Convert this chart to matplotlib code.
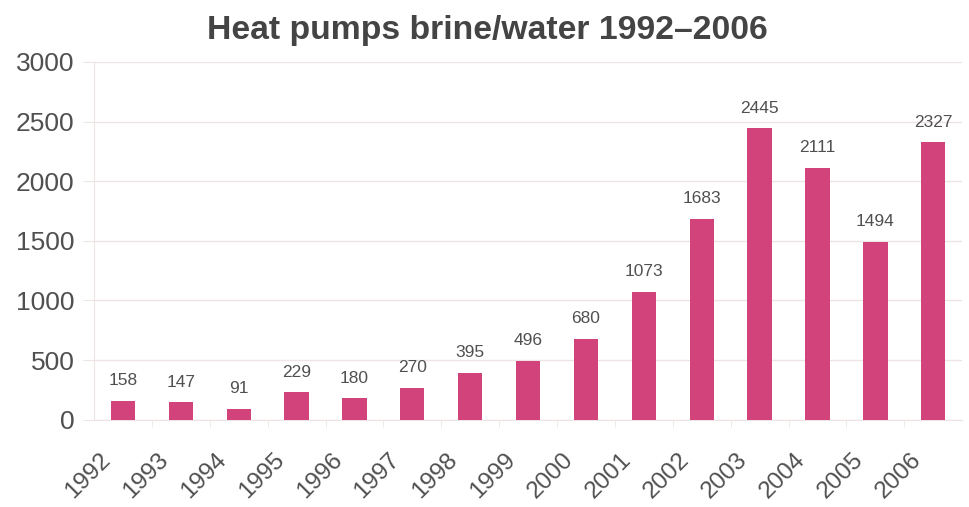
import matplotlib.pyplot as plt
from matplotlib.transforms import ScaledTranslation

plt.rcParams['font.family'] = ['Liberation Sans', 'DejaVu Sans']

years = ['1992', '1993', '1994', '1995', '1996', '1997', '1998', '1999',
         '2000', '2001', '2002', '2003', '2004', '2005', '2006']
values = [158, 147, 91, 229, 180, 270, 395, 496, 680, 1073, 1683, 2445, 2111, 1494, 2327]
yticks = [0, 500, 1000, 1500, 2000, 2500, 3000]

bar_color = '#d2427b'
text_color = '#505050'
grid_color = '#efe4e4'

fig = plt.figure(figsize=(9.69, 5.07), dpi=100)
ax = fig.add_axes([0.097, 0.172, 0.896, 0.706])

x = list(range(len(years)))
bars = ax.bar(x, values, width=0.42, color=bar_color, zorder=3)
for b, v in zip(bars, values):
    ax.annotate(str(v), (b.get_x() + b.get_width() / 2, v), xytext=(0, 9),
                textcoords='offset points', ha='center', va='bottom',
                fontsize=12.5, color=text_color)

ax.set_xlim(-0.5, len(years) - 0.5)
ax.set_ylim(0, 3000)
ax.set_yticks(yticks)
ax.set_yticklabels([str(t) for t in yticks], fontsize=19, color=text_color)
ax.set_xticks(x)
ax.set_xticklabels(years, rotation=45, ha='right', rotation_mode='anchor',
                   fontsize=17.5, color=text_color)
ax.set_xticks([i + 0.5 for i in x[:-1]], minor=True)
ax.tick_params(axis='y', length=8, color=grid_color, pad=6)
ax.tick_params(axis='x', which='major', length=0, pad=21)
ax.tick_params(axis='x', which='minor', length=5, color=grid_color)
offset = ScaledTranslation(-17 / 72, 0, fig.dpi_scale_trans)
for lbl in ax.get_xticklabels():
    lbl.set_transform(lbl.get_transform() + offset)
ax.yaxis.grid(True, color=grid_color, linewidth=1, zorder=0)
for s in ['top', 'right']:
    ax.spines[s].set_visible(False)
ax.spines['left'].set_color(grid_color)
ax.spines['bottom'].set_color(grid_color)

fig.suptitle('Heat pumps brine/water 1992\u20132006', x=0.503, y=0.97,
             fontsize=24.3, fontweight='bold', color='#444444')

fig.savefig('out.png', dpi=100)
